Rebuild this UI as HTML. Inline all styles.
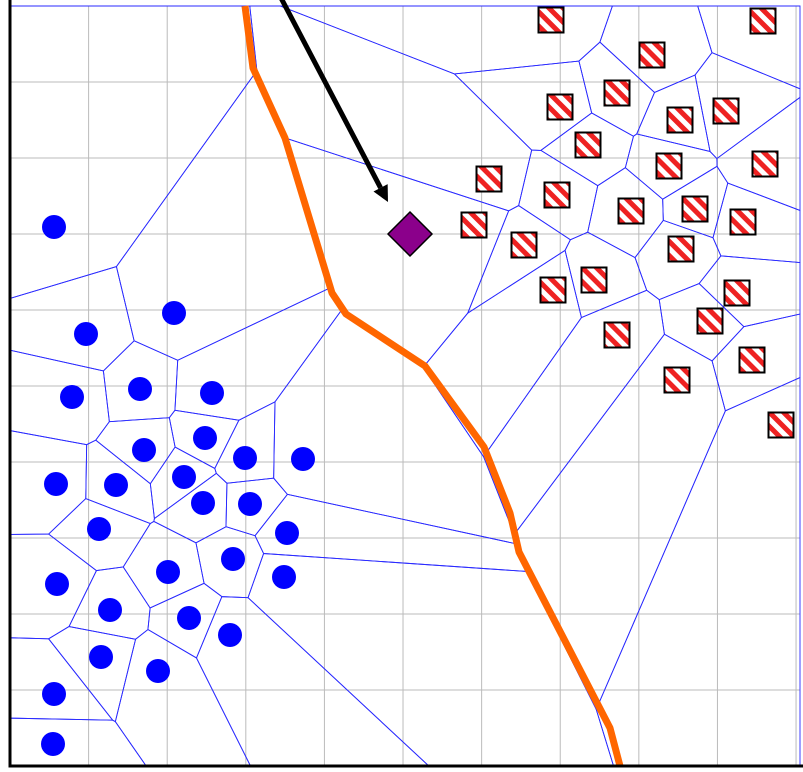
<!DOCTYPE html>
<html><head><meta charset="utf-8"><style>
html,body{margin:0;padding:0;background:#fff;}
svg{display:block;font-family:"Liberation Sans",sans-serif;}
</style></head><body>
<svg id="chart" width="803" height="772" viewBox="0 0 803 772" xmlns="http://www.w3.org/2000/svg">
<defs>
<pattern id="stripes" patternUnits="userSpaceOnUse" width="10" height="10" patternTransform="rotate(-45)">
<rect width="10" height="10" fill="#fff"/><rect width="5" height="10" fill="#ee2222"/>
</pattern>
</defs>
<g id="grid"></g>
<g id="voronoi"></g>
<g id="boundary"></g>
<g id="marks"></g>
<g id="axes"></g>
</svg>
<script>
// data units: x = 0..79, y = 0..76 (y upward)
const blueX = [4.4,7.6,16.4,6.2,13.0,20.2,13.4,19.5,4.6,10.6,17.4,23.5,29.3,8.9,19.3,24.0,27.7,4.7,15.8,22.3,27.4,10.0,17.9,22.0,9.1,14.8,4.4,4.3];
const blueY = [53.9,43.2,45.3,36.9,37.7,37.3,31.6,32.8,28.2,28.1,28.9,30.8,30.7,23.7,26.3,26.2,23.3,18.2,19.4,20.7,18.9,15.6,14.8,13.1,10.9,9.5,7.2,2.2];
const redX = [54.1,75.3,64.2,60.7,55.0,67.0,71.6,57.8,65.9,75.5,47.9,54.7,62.1,68.5,73.3,46.4,51.4,67.1,58.4,54.3,72.7,70.0,60.7,74.2,66.7,77.1];
const redY = [74.6,74.5,71.1,67.3,65.9,64.6,65.5,62.1,60.0,60.2,58.7,57.1,55.5,55.7,54.4,54.1,52.1,51.7,48.6,47.6,47.3,44.5,43.1,40.6,38.6,34.1];
const diamondX = [40.0];
const diamondY = [53.2];
const boundaryX = [23.5,24.3,27.5,32.2,33.6,41.5,47.4,50.0,50.9,60.0,61.0];
const boundaryY = [76.0,69.8,62.8,47.3,45.2,40.0,31.9,25.3,21.4,3.8,0];
const arrowX = [27.0,37.8];
const arrowY = [77.0,56.4];

const X0=10,X1=800,Y0=766,Y1=6;
const sx=v=>X0+v*10;
const sy=v=>Y0-v*10;
const NS='http://www.w3.org/2000/svg';
function mk(tag,attrs,parent){const e=document.createElementNS(NS,tag);for(const k in attrs)e.setAttribute(k,attrs[k]);parent.appendChild(e);return e;}

const grid=document.getElementById('grid');
for(let i=1;i<=10;i++){
  const gx=X0+i*(X1-X0)/10*0.995;
  const l=mk('line',{x1:gx,x2:gx,y1:Y1,y2:Y0,stroke:'#bbb','stroke-width':1},grid);
  
  
  const gy=Y0-i*76;
  const h=mk('line',{x1:X0,x2:X1,y1:gy,y2:gy,stroke:'#bbb','stroke-width':1},grid);
  
  
}

// voronoi of training points only
const sites=[];
blueX.forEach((v,i)=>sites.push([sx(v),sy(blueY[i])]));
redX.forEach((v,i)=>sites.push([sx(v),sy(redY[i])]));
const vor=document.getElementById('voronoi');
sites.forEach((p,i)=>{
  let poly=[[X0,Y1],[X1,Y1],[X1,Y0],[X0,Y0]];
  sites.forEach((q,j)=>{
    if(i===j||poly.length===0)return;
    const dx=q[0]-p[0],dy=q[1]-p[1],mx=(p[0]+q[0])/2,my=(p[1]+q[1])/2;
    const f=pt=>(pt[0]-mx)*dx+(pt[1]-my)*dy;
    const out=[];
    for(let k=0;k<poly.length;k++){
      const a=poly[k],b=poly[(k+1)%poly.length],fa=f(a),fb=f(b);
      if(fa<=0)out.push(a);
      if((fa<0&&fb>0)||(fa>0&&fb<0)){const t=fa/(fa-fb);out.push([a[0]+t*(b[0]-a[0]),a[1]+t*(b[1]-a[1])]);}
    }
    poly=out;
  });
  const c=mk('polygon',{points:poly.map(p=>p.join(',')).join(' '),fill:'none',stroke:'#2a2aff','stroke-width':0.9},vor);
  
  
});

const bd=document.getElementById('boundary');
const bl=mk('polyline',{points:boundaryX.map((v,i)=>sx(v)+','+sy(boundaryY[i])).join(' '),fill:'none',stroke:'#ff6600','stroke-width':7,'stroke-linejoin':'round'},bd);



const ax1=sx(arrowX[0]),ay1=sy(arrowY[0]),ax2=sx(arrowX[1]),ay2=sy(arrowY[1]);
const ang=Math.atan2(ay2-ay1,ax2-ax1),L=16,W=8;
const bx=ax2-L*Math.cos(ang),by=ay2-L*Math.sin(ang);
const al=mk('line',{x1:ax1,y1:ay1,x2:bx,y2:by,stroke:'#000','stroke-width':5},bd);


const ah=mk('polygon',{points:`${ax2},${ay2} ${bx-W*Math.sin(ang)},${by+W*Math.cos(ang)} ${bx+W*Math.sin(ang)},${by-W*Math.cos(ang)}`,fill:'#000'},bd);



const marks=document.getElementById('marks');
blueX.forEach((v,i)=>{
  const c=mk('circle',{cx:sx(v),cy:sy(blueY[i]),r:12,fill:'#0000ff'},marks);
  
  
});
redX.forEach((v,i)=>{
  const r=mk('rect',{x:sx(v)-12.5,y:sy(redY[i])-12.5,width:25,height:25,fill:'url(#stripes)',stroke:'#000','stroke-width':2},marks);
  
  
});
diamondX.forEach((v,i)=>{
  const cx=sx(v),cy=sy(diamondY[i]),d=22;
  const p=mk('polygon',{points:`${cx},${cy-d} ${cx+d},${cy} ${cx},${cy+d} ${cx-d},${cy}`,fill:'#8b008b',stroke:'#000','stroke-width':1.5},marks);
  
  
});

const axes=document.getElementById('axes');
const ya=mk('line',{x1:X0,y1:0,x2:X0,y2:Y0+1.5,stroke:'#000','stroke-width':3},axes);


const xa=mk('line',{x1:X0-1.5,y1:Y0,x2:803,y2:Y0,stroke:'#000','stroke-width':3},axes);


</script>
</body></html>
